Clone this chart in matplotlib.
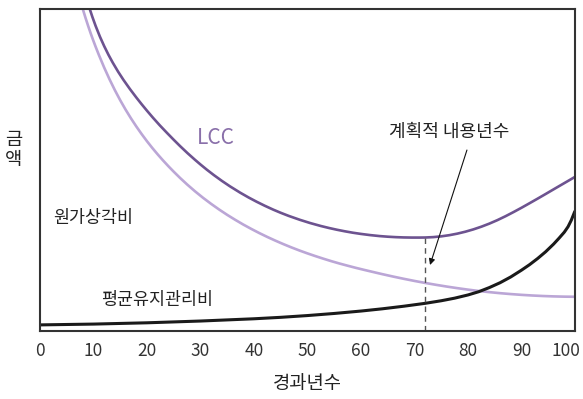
import matplotlib
matplotlib.use("Agg")
import matplotlib.pyplot as plt

plt.rcParams['font.family'] = ['Noto Sans CJK KR', 'DejaVu Sans']

# LCC (life cycle cost)
lcc_x = [9.3, 9.8, 10.4, 11.2, 12.0, 12.8, 13.6, 14.6, 15.6, 16.8, 18.0, 19.0,
         20.0, 21.1, 22.4, 23.7, 25.0, 26.2, 27.6, 29.0, 30.0, 31.2, 32.5, 34.0,
         35.5, 37.4, 39.0, 40.5, 42.0, 43.6, 45.0, 46.5, 48.6, 50.5, 52.5, 54.0,
         55.5, 57.0, 58.5, 60.0, 61.7, 63.5, 65.0, 66.5, 68.0, 69.5, 71.0, 72.0,
         73.5, 75.0, 76.5, 78.0, 79.5, 81.0, 82.5, 84.0, 85.5, 87.0, 88.5, 90.0,
         91.5, 93.0, 94.5, 96.0, 97.5, 99.0, 100.0]
lcc_y = [100, 97.5, 94.74, 91.42, 88.46, 85.78, 83.34, 80.54, 77.99, 75.17, 72.53, 70.43,
         68.41, 66.27, 63.86, 61.59, 59.38, 57.4, 55.2, 53.13, 51.71, 50.08, 48.42, 46.62,
         44.94, 42.98, 41.46, 40.14, 38.91, 37.69, 36.71, 35.74, 34.52, 33.53, 32.61, 32.0,
         31.45, 30.96, 30.52, 30.15, 29.79, 29.48, 29.29, 29.15, 29.06, 29.02, 29.02, 29.04,
         29.16, 29.4, 29.76, 30.24, 30.84, 31.56, 32.4, 33.36, 34.44, 35.64, 36.93, 38.28,
         39.68, 41.1, 42.54, 44.0, 45.45, 46.9, 47.87]

# 원가상각비
dep_x = [8.0, 8.5, 9.0, 9.5, 9.9, 10.4, 11.0, 12.0, 13.0, 14.0, 15.0, 16.0,
         17.0, 18.0, 19.0, 20.0, 21.0, 22.0, 23.0, 24.0, 25.0, 26.2, 27.5, 29.0,
         30.5, 32.0, 33.5, 35.0, 36.5, 38.0, 39.5, 41.0, 42.5, 44.0, 45.5, 47.0,
         48.5, 50.0, 51.5, 53.0, 54.5, 56.0, 57.5, 59.0, 60.5, 62.0, 64.0, 66.0,
         68.0, 70.0, 72.0, 74.0, 76.0, 78.0, 80.0, 82.0, 84.0, 86.0, 88.0, 90.0,
         92.0, 94.0, 96.0, 98.0, 100.0]
dep_y = [100, 97.3, 94.75, 92.32, 90.48, 88.28, 85.76, 81.81, 78.16, 74.78, 71.65, 68.75,
         66.05, 63.53, 61.16, 58.93, 56.83, 54.85, 52.97, 51.18, 49.47, 47.51, 45.51, 43.35,
         41.34, 39.47, 37.71, 36.06, 34.52, 33.06, 31.7, 30.41, 29.2, 28.06, 26.98, 25.96,
         25.0, 24.1, 23.25, 22.44, 21.67, 20.95, 20.28, 19.63, 19.02, 18.43, 17.65, 16.91,
         16.21, 15.55, 14.93, 14.35, 13.81, 13.31, 12.85, 12.43, 12.07, 11.75, 11.47, 11.23,
         11.03, 10.87, 10.75, 10.67, 10.63]

# 평균유지관리비
mnt_x = [0, 10.0, 20.0, 30.0, 40.0, 45.0, 50.0, 55.0, 60.0, 64.0, 68.0, 72.0,
         75.0, 77.5, 80.0, 82.0, 84.0, 86.0, 88.0, 90.0, 91.5, 93.0, 94.5, 96.0,
         97.0, 98.0, 98.7, 99.3, 100.0]
mnt_y = [1.9, 2.15, 2.55, 3.1, 3.8, 4.25, 4.8, 5.45, 6.2, 6.9, 7.7, 8.6,
         9.4, 10.2, 11.2, 12.2, 13.5, 15.0, 16.8, 18.9, 20.6, 22.5, 24.6, 27.0,
         28.8, 30.7, 32.4, 34.4, 37.3]

opt_year = 72.0
opt_cost = 29.0

tick_pos = [10, 20, 30, 40, 50, 60, 70, 80, 90]
label_pos = [0, 10, 20, 30, 40, 50, 60, 70, 80, 90, 98.3]
label_txt = ['0', '10', '20', '30', '40', '50', '60', '70', '80', '90', '100']

fig = plt.figure(figsize=(5.83, 3.99), dpi=100)
ax = fig.add_axes([0.0686, 0.1704, 0.9177, 0.807])

ax.plot(dep_x, dep_y, color='#bba6d6', lw=1.9, solid_capstyle='butt',
        solid_joinstyle='round')
ax.plot(lcc_x, lcc_y, color='#6d5390', lw=1.9, solid_capstyle='butt',
        solid_joinstyle='round')
ax.plot(mnt_x, mnt_y, color='#1a1a1a', lw=2.2, solid_capstyle='butt',
        solid_joinstyle='round')

ax.plot([opt_year, opt_year], [0, opt_cost], color='#555555', lw=1.0,
        dashes=(4, 3))

ax.text(32.9, 59.9, 'LCC', color='#8a70aa', fontsize=15, ha='center', va='center')
ax.text(2.4, 35.1, '원가상각비', color='#222222', fontsize=12.5, ha='left', va='center')
ax.text(21.9, 9.6, '평균유지관리비', color='#222222', fontsize=12.5, ha='center', va='center')
ax.text(76.4, 61.8, '계획적 내용년수', color='#222222', fontsize=13, ha='center', va='center')
ax.annotate('', xy=(72.9, 20.5), xytext=(79.8, 56.2),
            arrowprops=dict(arrowstyle='-|>', color='#111111', lw=0.8,
                            mutation_scale=9, shrinkA=0, shrinkB=0))

ax.set_xlim(0, 100)
ax.set_ylim(0, 100)
ax.set_yticks([])
ax.set_xticks(tick_pos, minor=True)
ax.set_xticks(label_pos)
ax.set_xticklabels(label_txt)
ax.tick_params(axis='x', which='minor', direction='in', length=3.6, width=0.9,
               color='#333333')
ax.tick_params(axis='x', which='major', length=0, pad=8, labelsize=12.5,
               labelcolor='#333333')
for s in ax.spines.values():
    s.set_linewidth(1.5)
    s.set_color('#333333')

fig.text(307 / 583, 1 - 384 / 399, '경과년수', fontsize=13.5, color='#222222',
         ha='center', va='center')
fig.text(14 / 583, 1 - 139 / 399, '금', fontsize=13.5, color='#222222',
         ha='center', va='center')
fig.text(14 / 583, 1 - 160 / 399, '액', fontsize=13.5, color='#222222',
         ha='center', va='center')

fig.savefig('out.png', dpi=100)
